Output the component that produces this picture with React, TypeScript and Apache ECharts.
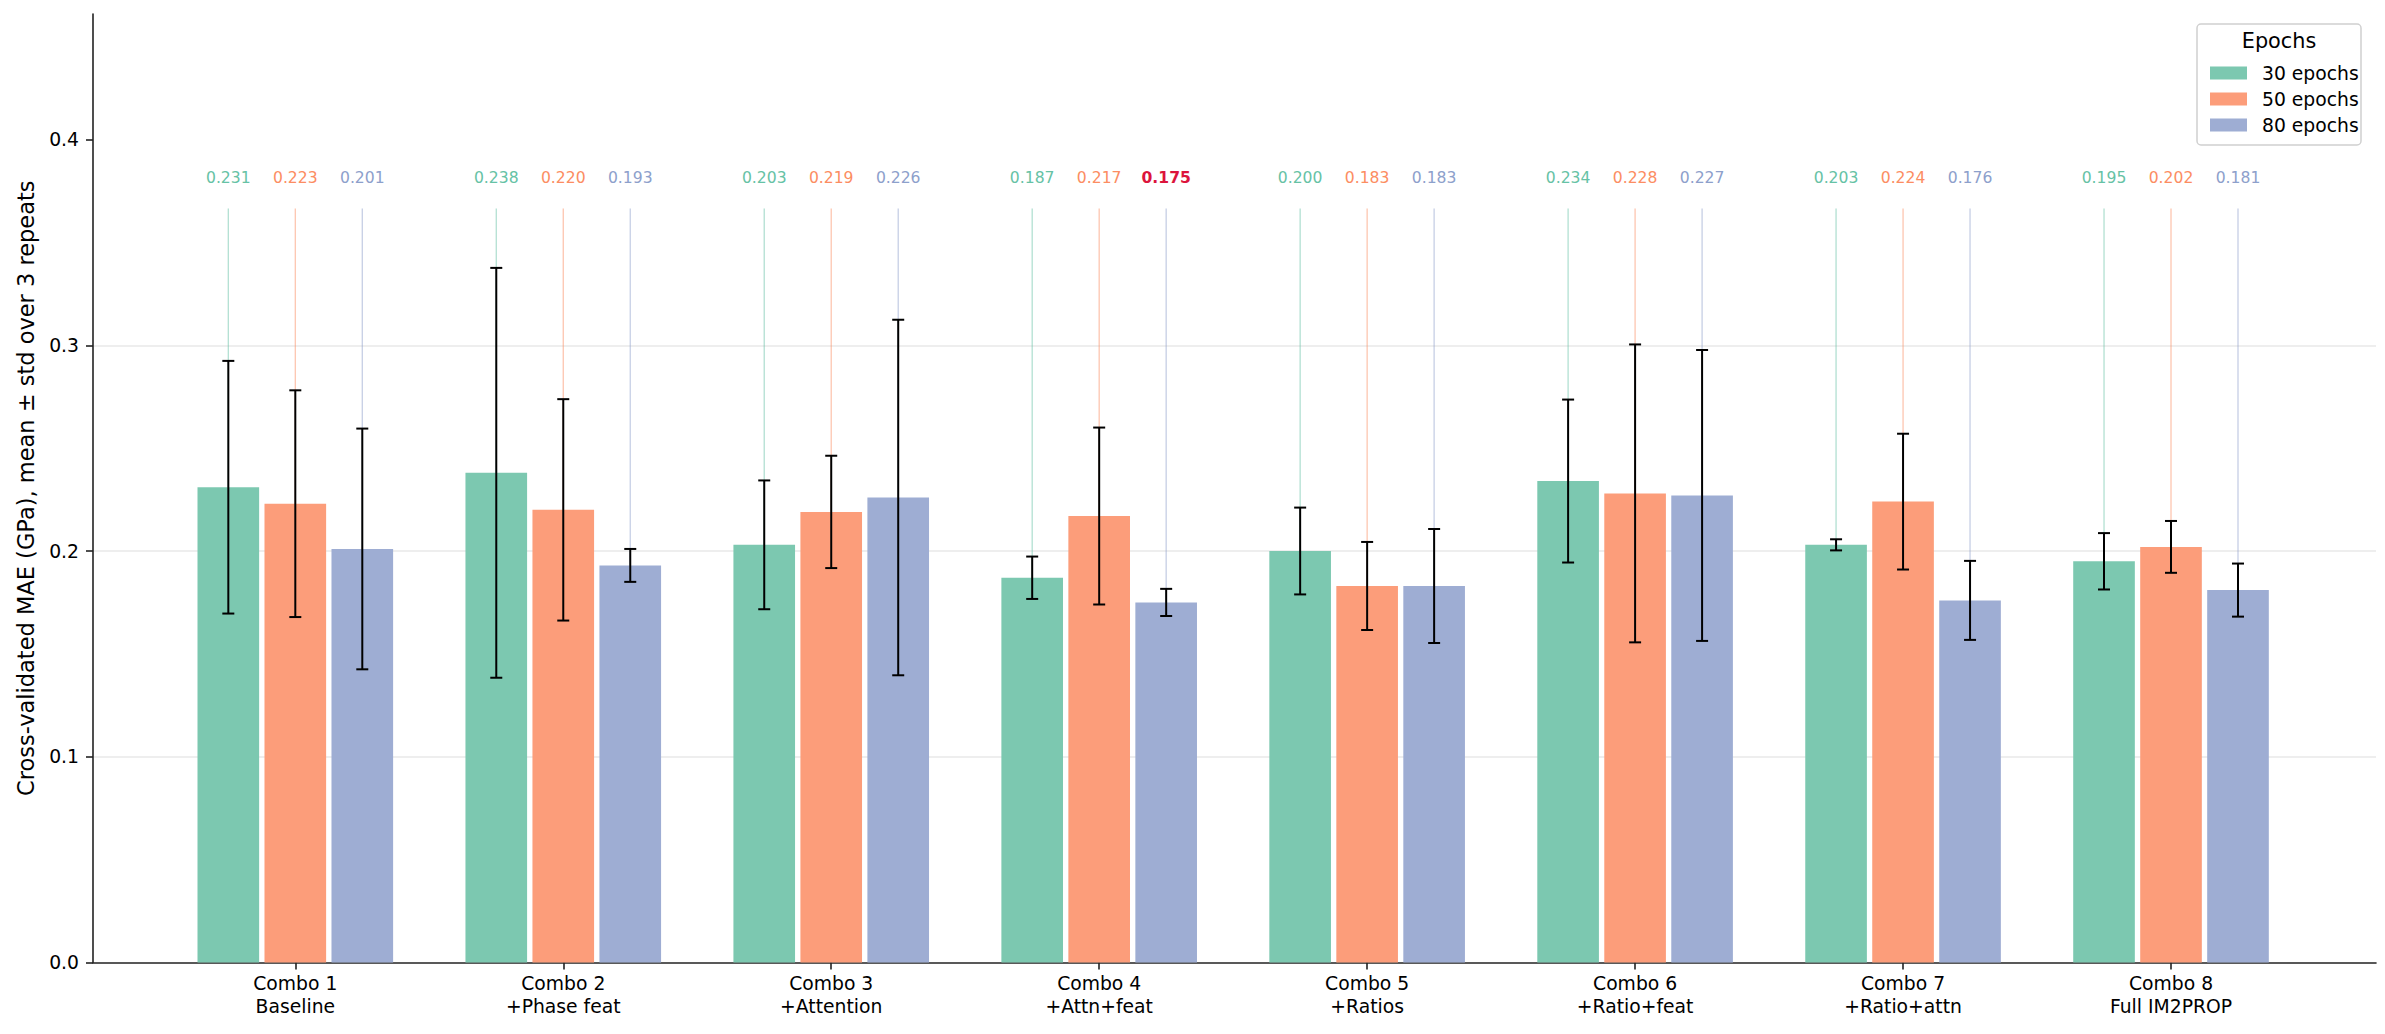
import React, { useEffect, useRef } from 'react';
import * as echarts from 'echarts';

// ---------- data ----------
const categories = [
  'Combo 1\nBaseline',
  'Combo 2\n+Phase feat',
  'Combo 3\n+Attention',
  'Combo 4\n+Attn+feat',
  'Combo 5\n+Ratios',
  'Combo 6\n+Ratio+feat',
  'Combo 7\n+Ratio+attn',
  'Combo 8\nFull IM2PROP',
];
const seriesNames = ['30 epochs', '50 epochs', '80 epochs'];
const mean30 = [0.231, 0.238, 0.203, 0.187, 0.2, 0.234, 0.203, 0.195];
const mean50 = [0.223, 0.22, 0.219, 0.217, 0.183, 0.228, 0.224, 0.202];
const mean80 = [0.201, 0.193, 0.226, 0.175, 0.183, 0.227, 0.176, 0.181];
const std30 = [0.0614, 0.0996, 0.0313, 0.0103, 0.0211, 0.0396, 0.0027, 0.0137];
const std50 = [0.0551, 0.0538, 0.0273, 0.043, 0.0214, 0.0724, 0.033, 0.0126];
const std80 = [0.0585, 0.008, 0.0864, 0.0066, 0.0277, 0.0707, 0.0192, 0.0129];
const yTicks = [0.0, 0.1, 0.2, 0.3, 0.4];
const xTicks = [0, 1, 2, 3, 4, 5, 6, 7];

const means = [mean30, mean50, mean80];
const stds = [std30, std50, std80];

// ---------- style ----------
const FONT = '"DejaVu Sans", sans-serif';
const BASE_COLORS = ['#66c2a5', '#fc8d62', '#8da0cb'];
const BAR_COLORS = ['#7cc8b0', '#fc9d7a', '#9eadd3'];
const HIGHLIGHT = '#dc143c';
const OFFSETS = [-0.25, 0, 0.25];
const BAR_W = 0.23;
const LEADER_TOP = 0.3665;
const LABEL_Y = 0.3815;
const Y_MAX = 0.461;

const best = Math.min(...means.flat());

function makeRender(s: number) {
  return (params: any, api: any) => {
    const i = api.value(0);
    const m = api.value(1);
    const sd = api.value(2);
    const cx = api.coord([i + OFFSETS[s], 0])[0];
    const bw = api.size([BAR_W, 0])[0];
    const yTop = api.coord([i, m])[1];
    const y0 = api.coord([i, 0])[1];
    const yHi = api.coord([i, m + sd])[1];
    const yLo = api.coord([i, m - sd])[1];
    const yLead = api.coord([i, LEADER_TOP])[1];
    const yLab = api.coord([i, LABEL_Y])[1];
    const isBest = Math.abs(m - best) < 1e-9;
    const cap = 6;
    return {
      type: 'group',
      children: [
        {
          type: 'line',
          shape: { x1: cx, y1: yLead, x2: cx, y2: yTop },
          style: { stroke: BASE_COLORS[s], opacity: 0.5, lineWidth: 1.3 },
        },
        {
          type: 'rect',
          shape: { x: cx - bw / 2, y: yTop, width: bw, height: y0 - yTop },
          style: { fill: BAR_COLORS[s] },
        },
        {
          type: 'line',
          shape: { x1: cx, y1: yHi, x2: cx, y2: yLo },
          style: { stroke: '#000', lineWidth: 2 },
        },
        {
          type: 'line',
          shape: { x1: cx - cap, y1: yHi, x2: cx + cap, y2: yHi },
          style: { stroke: '#000', lineWidth: 2 },
        },
        {
          type: 'line',
          shape: { x1: cx - cap, y1: yLo, x2: cx + cap, y2: yLo },
          style: { stroke: '#000', lineWidth: 2 },
        },
        {
          type: 'text',
          x: cx,
          y: yLab,
          style: {
            text: m.toFixed(3),
            fill: isBest ? HIGHLIGHT : BASE_COLORS[s],
            fontSize: 15.6,
            fontFamily: FONT,
            fontWeight: isBest ? 'bold' : 'normal',
            align: 'center',
            verticalAlign: 'middle',
          },
        },
      ],
    };
  };
}

export default function App() {
  const ref = useRef<HTMLDivElement>(null);
  useEffect(() => {
    if (!ref.current) return;
    const chart = echarts.init(ref.current, undefined, { renderer: 'svg' });
    const series: any[] = seriesNames.map((name, s) => ({
      type: 'custom',
      name,
      silent: true,
      itemStyle: { color: BAR_COLORS[s] },
      renderItem: makeRender(s),
      encode: { x: 0, y: 1 },
      data: categories.map((_, i) => [i, means[s][i], stds[s][i]]),
      z: 3,
    }));
    chart.setOption({
      animation: false,
      backgroundColor: '#ffffff',
      textStyle: { fontFamily: FONT },
      grid: { left: 93, right: 9, top: 14, bottom: 71.5, containLabel: false },
      xAxis: {
        type: 'value',
        min: -0.755,
        max: 7.765,
        axisLine: { show: true, onZero: false, lineStyle: { color: '#222', width: 1.6 } },
        axisTick: { show: true, customValues: xTicks, length: 7, lineStyle: { color: '#222', width: 1.6 } },
        axisLabel: {
          show: true,
          customValues: xTicks,
          formatter: (v: number) => categories[Math.round(v)] ?? '',
          fontSize: 18.75,
          lineHeight: 22.5,
          fontFamily: FONT,
          color: '#000',
          margin: 10,
        },
        splitLine: { show: false },
      },
      yAxis: {
        type: 'value',
        min: 0,
        max: Y_MAX,
        name: 'Cross-validated MAE (GPa), mean ± std over 3 repeats',
        nameLocation: 'middle',
        nameRotate: 90,
        nameGap: 56,
        nameTextStyle: { fontSize: 22.5, fontFamily: FONT, color: '#000' },
        axisLine: { show: true, onZero: false, lineStyle: { color: '#222', width: 1.6 } },
        axisTick: { show: true, customValues: yTicks, length: 7, lineStyle: { color: '#222', width: 1.6 } },
        axisLabel: {
          show: true,
          customValues: yTicks,
          formatter: (v: number) => v.toFixed(1),
          fontSize: 18.75,
          fontFamily: FONT,
          color: '#000',
          margin: 14,
        },
        splitLine: {
          show: true,
          showMinLine: false,
          showMaxLine: false,
          lineStyle: { color: '#e8e8e8', width: 1.6 },
        },
      },
      legend: {
        orient: 'vertical',
        left: 2205,
        top: 57,
        icon: 'rect',
        itemWidth: 37,
        itemHeight: 13,
        itemGap: 4,
        data: seriesNames,
        selectedMode: false,
        textStyle: {
          fontSize: 18.75,
          lineHeight: 22,
          fontFamily: FONT,
          color: '#000',
          padding: [0, 0, 0, 10],
        },
        z: 20,
      },
      graphic: [
        {
          type: 'rect',
          z: 10,
          silent: true,
          shape: { x: 2197, y: 24, width: 164, height: 121, r: 4 },
          style: { fill: 'rgba(255,255,255,0.9)', stroke: '#d0d0d0', lineWidth: 1.5 },
        },
        {
          type: 'text',
          z: 11,
          silent: true,
          x: 2279,
          y: 41,
          style: {
            text: 'Epochs',
            fill: '#000',
            fontSize: 20.8,
            fontFamily: FONT,
            align: 'center',
            verticalAlign: 'middle',
          },
        },
      ],
      series,
    });
    return () => chart.dispose();
  }, []);
  return (
    <div
      ref={ref}
      style={{ position: 'fixed', left: 0, top: 0, width: 2385, height: 1034, background: '#fff' }}
    />
  );
}
